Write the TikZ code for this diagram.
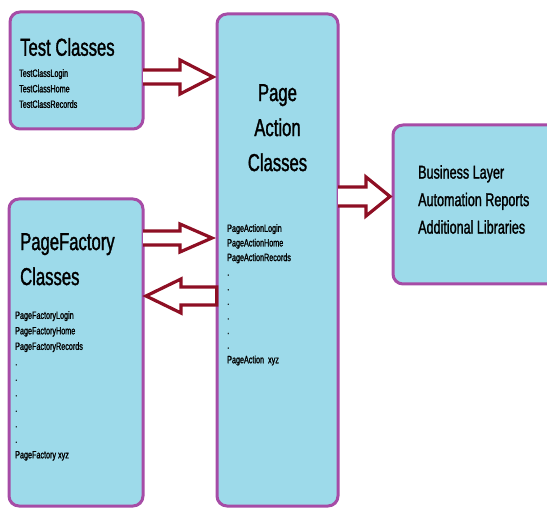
\documentclass[tikz,border=0pt]{standalone}
\usepackage{fontspec}
\usetikzlibrary{calc}
\setmainfont[FakeStretch=0.68,FakeBold=1.3]{Liberation Sans}
\definecolor{boxfill}{HTML}{9DDAEA}
\definecolor{boxline}{HTML}{A64CA6}
\definecolor{arrline}{HTML}{8E0F24}
\begin{document}
\begin{tikzpicture}[x=1pt,y=-1pt,
  cls/.style={draw=boxline,fill=boxfill,line width=3pt,rounded corners=10pt},
  title/.style={font=\fontsize{24.5}{35}\selectfont,inner sep=0pt,align=center},
  small/.style={font=\fontsize{10.6}{15.5}\selectfont,inner sep=0pt,align=left,anchor=north west},
  blockarr/.style={draw=arrline,fill=white,line width=3.2pt,line join=miter}]
\useasboundingbox (0,0) rectangle (547,508);
% boxes
\path[cls] (10,12) rectangle (143,129);
\node[inner sep=0pt,minimum width=133,minimum height=117] (test) at (76.5,70.5) {};
\path[cls] (9,199) rectangle (143,506);
\node[inner sep=0pt,minimum width=134,minimum height=307] (pf) at (76,352.5) {};
\path[cls] (217,14) rectangle (338,506);
\node[inner sep=0pt,minimum width=121,minimum height=492] (pa) at (277.5,260) {};
\path[cls] (393,125) rectangle (570,284);
\node[inner sep=0pt,minimum width=177,minimum height=159] (bl) at (481.5,204.5) {};
% arrows
\coordinate (a1) at (test.east |- 0,77);
\draw[blockarr] (a1) ++(0,-7) -- (180,70) -- (180,60) -- (213,77) -- (180,94) -- (180,84) -- ($(a1)+(0,7)$);
\coordinate (a2) at (pf.east |- 0,238);
\draw[blockarr] (a2) ++(0,-7) -- (180,231) -- (180,224) -- (212,238) -- (180,252) -- (180,245) -- ($(a2)+(0,7)$);
\coordinate (a3) at (pa.west |- 0,296);
\draw[blockarr] (a3) ++(0,-9) -- (181,287) -- (181,279) -- (146,296) -- (181,313) -- (181,305) -- ($(a3)+(0,9)$) -- cycle;
\coordinate (a4) at (pa.east |- 0,196.5);
\draw[blockarr] (a4) ++(0,-9.5) -- (366,187) -- (366,177) -- (390,196.5) -- (366,216) -- (366,206) -- ($(a4)+(0,9.5)$);
% texts
\node[title,anchor=west] (testt) at (20,47) {Test Classes};
\node[small] (testl) at (19,69) {TestClassLogin\\TestClassHome\\TestClassRecords};
\node[title,anchor=north west,align=left] (pft) at (20,233) {PageFactory\\Classes};
\node[small] (pfl) at (15,311) {PageFactoryLogin\\PageFactoryHome\\PageFactoryRecords\\.\\.\\.\\.\\.\\.\\PageFactory xyz};
\node[title,anchor=north] (pat) at (277.5,84) {Page\\Action\\Classes};
\node[small,font=\fontsize{10.6}{14.6}\selectfont] (pal) at (227,224) {PageActionLogin\\PageActionHome\\PageActionRecords\\.\\.\\.\\.\\.\\.\\PageAction\ \ xyz};
\node[font=\fontsize{18.5}{27.5}\selectfont,inner sep=0pt,align=left,anchor=north west] (blt) at (418,165) {Business Layer\\Automation Reports\\Additional Libraries};
\end{tikzpicture}
\end{document}
